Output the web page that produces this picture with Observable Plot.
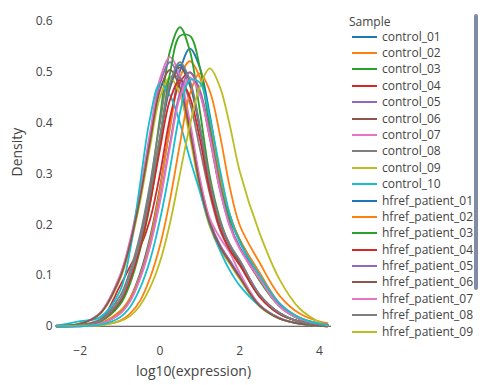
<!DOCTYPE html>
<html>
<head>
<meta charset="utf-8">
<script src="https://cdn.jsdelivr.net/npm/d3@7"></script>
<script src="https://cdn.jsdelivr.net/npm/@observablehq/plot@0.6"></script>
<style>
  html, body { margin: 0; padding: 0; background: #fff; }
  #wrap { position: relative; width: 489px; height: 385px; overflow: hidden; font-family: "Open Sans", sans-serif; color: #444; }
  #legend { position: absolute; left: 345px; top: 10px; width: 128px; height: 331px; overflow: hidden; }
  #legend .title { position: absolute; left: 4px; top: 4px; font-size: 12px; line-height: 16px; }
  #legend .item { position: absolute; left: 0; height: 16px; font-size: 12px; line-height: 16px; white-space: nowrap; }
  #legend .sw { position: absolute; left: 7px; top: 7px; width: 25px; height: 2px; }
  #legend .lbl { position: absolute; left: 37px; top: 0; }
  #scroll { position: absolute; left: 474px; top: 14px; width: 4px; height: 276px; border-radius: 2px; background: #808BA4; }
</style>
</head>
<body>
<div id="wrap"><div id="chart"></div><div id="legend"></div><div id="scroll"></div></div>
<script>
// log10(expression) grid where densities were read
const xGrid = [-2.6, -2, -1.5, -1, -0.75, -0.5, -0.25, 0, 0.25, 0.5, 0.75, 1, 1.25, 1.5, 1.75, 2, 2.5, 3, 3.5, 4, 4.2];

const sampleNames = ["control_01","control_02","control_03","control_04","control_05","control_06","control_07","control_08","control_09","control_10",
  "hfref_patient_01","hfref_patient_02","hfref_patient_03","hfref_patient_04","hfref_patient_05","hfref_patient_06","hfref_patient_07","hfref_patient_08","hfref_patient_09","hfref_patient_10"];

const palette = ["#1f77b4","#ff7f0e","#2ca02c","#d62728","#9467bd","#8c564b","#e377c2","#7f7f7f","#bcbd22","#17becf"];

const control_01 = [0,0.001,0.005,0.027,0.055,0.104,0.175,0.274,0.394,0.503,0.547,0.509,0.416,0.301,0.219,0.170,0.104,0.044,0.016,0.005,0.003];
const control_02 = [0,0.001,0.006,0.03,0.056,0.10,0.169,0.27,0.39,0.49,0.522,0.49,0.40,0.295,0.22,0.17,0.105,0.045,0.017,0.005,0.002];
const control_03 = [0,0.002,0.011,0.047,0.094,0.165,0.271,0.412,0.542,0.589,0.542,0.424,0.295,0.212,0.159,0.124,0.059,0.024,0.009,0.002,0.001];
const control_04 = [0,0.002,0.012,0.08,0.118,0.155,0.21,0.30,0.41,0.48,0.50,0.46,0.37,0.27,0.20,0.155,0.09,0.04,0.014,0.004,0.002];
const control_05 = [0.001,0.005,0.026,0.099,0.166,0.26,0.374,0.478,0.52,0.484,0.395,0.286,0.208,0.161,0.13,0.099,0.042,0.016,0.005,0.001,0];
const control_06 = [0,0.002,0.011,0.051,0.097,0.163,0.255,0.367,0.469,0.51,0.474,0.388,0.281,0.204,0.158,0.128,0.061,0.026,0.009,0.003,0.001];
const control_07 = [0.001,0.005,0.027,0.101,0.17,0.265,0.382,0.488,0.53,0.493,0.403,0.292,0.212,0.175,0.145,0.105,0.042,0.016,0.005,0.001,0];
const control_08 = [0,0.003,0.014,0.06,0.11,0.18,0.28,0.40,0.49,0.49,0.44,0.35,0.26,0.19,0.15,0.12,0.058,0.024,0.009,0.003,0.001];
const control_09 = [0.001,0.005,0.025,0.093,0.157,0.245,0.353,0.451,0.49,0.456,0.372,0.27,0.196,0.152,0.123,0.093,0.039,0.015,0.005,0.001,0];
const control_10 = [0.001,0.01,0.018,0.07,0.15,0.28,0.41,0.478,0.455,0.40,0.33,0.265,0.2,0.15,0.11,0.08,0.04,0.015,0.005,0.001,0];
const hfref_patient_01 = [0,0.002,0.011,0.052,0.098,0.165,0.258,0.371,0.474,0.515,0.479,0.391,0.283,0.206,0.16,0.129,0.062,0.026,0.009,0.003,0.001];
const hfref_patient_02 = [0,0,0.002,0.011,0.025,0.05,0.095,0.159,0.249,0.359,0.458,0.498,0.463,0.378,0.274,0.199,0.125,0.06,0.025,0.009,0.006];
const hfref_patient_03 = [0,0.001,0.009,0.043,0.084,0.15,0.24,0.366,0.498,0.572,0.572,0.51,0.39,0.282,0.21,0.168,0.09,0.039,0.014,0.004,0.002];
const hfref_patient_04 = [0,0.002,0.011,0.049,0.092,0.155,0.243,0.349,0.446,0.485,0.451,0.369,0.267,0.194,0.15,0.121,0.058,0.024,0.009,0.002,0.001];
const hfref_patient_05 = [0,0.001,0.005,0.025,0.05,0.095,0.16,0.25,0.36,0.46,0.50,0.465,0.38,0.275,0.20,0.155,0.095,0.04,0.015,0.005,0.003];
const hfref_patient_06 = [0.001,0.005,0.025,0.096,0.162,0.253,0.364,0.465,0.505,0.47,0.384,0.278,0.202,0.157,0.126,0.096,0.04,0.015,0.005,0.001,0];
const hfref_patient_07 = [0,0,0.005,0.025,0.049,0.093,0.157,0.245,0.353,0.451,0.49,0.456,0.372,0.27,0.196,0.152,0.093,0.039,0.015,0.005,0.003];
const hfref_patient_08 = [0,0.002,0.011,0.052,0.099,0.166,0.26,0.374,0.478,0.52,0.484,0.395,0.286,0.208,0.161,0.13,0.062,0.026,0.009,0.003,0.001];
const hfref_patient_09 = [0,0.001,0.002,0.01,0.02,0.041,0.076,0.127,0.203,0.3,0.396,0.472,0.508,0.472,0.396,0.305,0.183,0.092,0.035,0.008,0.002];
const hfref_patient_10 = [0,0,0.003,0.018,0.038,0.075,0.13,0.21,0.31,0.42,0.485,0.48,0.41,0.31,0.22,0.165,0.10,0.045,0.017,0.005,0.003];

const seriesValues = [control_01,control_02,control_03,control_04,control_05,control_06,control_07,control_08,control_09,control_10,
  hfref_patient_01,hfref_patient_02,hfref_patient_03,hfref_patient_04,hfref_patient_05,hfref_patient_06,hfref_patient_07,hfref_patient_08,hfref_patient_09,hfref_patient_10];

const xTicks = [-2, 0, 2, 4];
const yTicks = [0, 0.1, 0.2, 0.3, 0.4, 0.5, 0.6];
const xTitle = ["log10(expression)"];
const yTitle = ["Density"];
const legendTitle = "Sample";

const rows = [];
sampleNames.forEach((name, i) => {
  seriesValues[i].forEach((v, j) => rows.push({sample: name, x: xGrid[j], y: v}));
});
const colorRange = sampleNames.map((_, i) => palette[i % palette.length]);

const chart = Plot.plot({
  width: 489,
  height: 385,
  marginLeft: 55,
  marginRight: 158,
  marginTop: 11,
  marginBottom: 44,
  style: {fontFamily: "Open Sans, sans-serif", fontSize: "12px", color: "#444", background: "#fff"},
  x: {domain: [-2.62, 4.3], ticks: xTicks, tickSize: 0, tickPadding: 5, label: null,
      tickFormat: d => d < 0 ? "\u2212" + (-d) : String(d)},
  y: {domain: [-0.03, 0.62], ticks: yTicks, tickSize: 0, tickPadding: 3, label: null,
      tickFormat: d => String(+d.toFixed(1))},
  color: {domain: sampleNames, range: colorRange},
  marks: [
    Plot.ruleY([0], {stroke: "#444", strokeWidth: 1}),
    Plot.line(rows, {x: "x", y: "y", z: "sample", stroke: "sample", strokeWidth: 1.8, curve: "catmull-rom", clip: true}),
    Plot.text(xTitle, {text: d => d, frameAnchor: "bottom", dy: 30, lineAnchor: "middle", fontSize: 14, fill: "#444"}),
    Plot.text(yTitle, {text: d => d, frameAnchor: "left", dx: -38, rotate: -90, lineAnchor: "middle", fontSize: 14, fill: "#444"})
  ]
});
document.getElementById("chart").appendChild(chart);

// legend (HTML, positioned to the right of the plot); scrolled viewport shows only rows that fit
const legend = document.getElementById("legend");
const legendViewport = 331;
const t = document.createElement("div");
t.className = "title";
t.textContent = legendTitle;
legend.appendChild(t);
sampleNames.forEach((name, i) => {
  const top = 18.7 + i * 16.38;
  if (top + 16 > legendViewport) return; // below the scroll viewport
  const it = document.createElement("div");
  it.className = "item";
  it.style.top = top + "px";
  const sw = document.createElement("div");
  sw.className = "sw";
  sw.style.background = colorRange[i];
  const lb = document.createElement("span");
  lb.className = "lbl";
  lb.textContent = name;
  it.appendChild(sw);
  it.appendChild(lb);
  legend.appendChild(it);
});
</script>
</body>
</html>
